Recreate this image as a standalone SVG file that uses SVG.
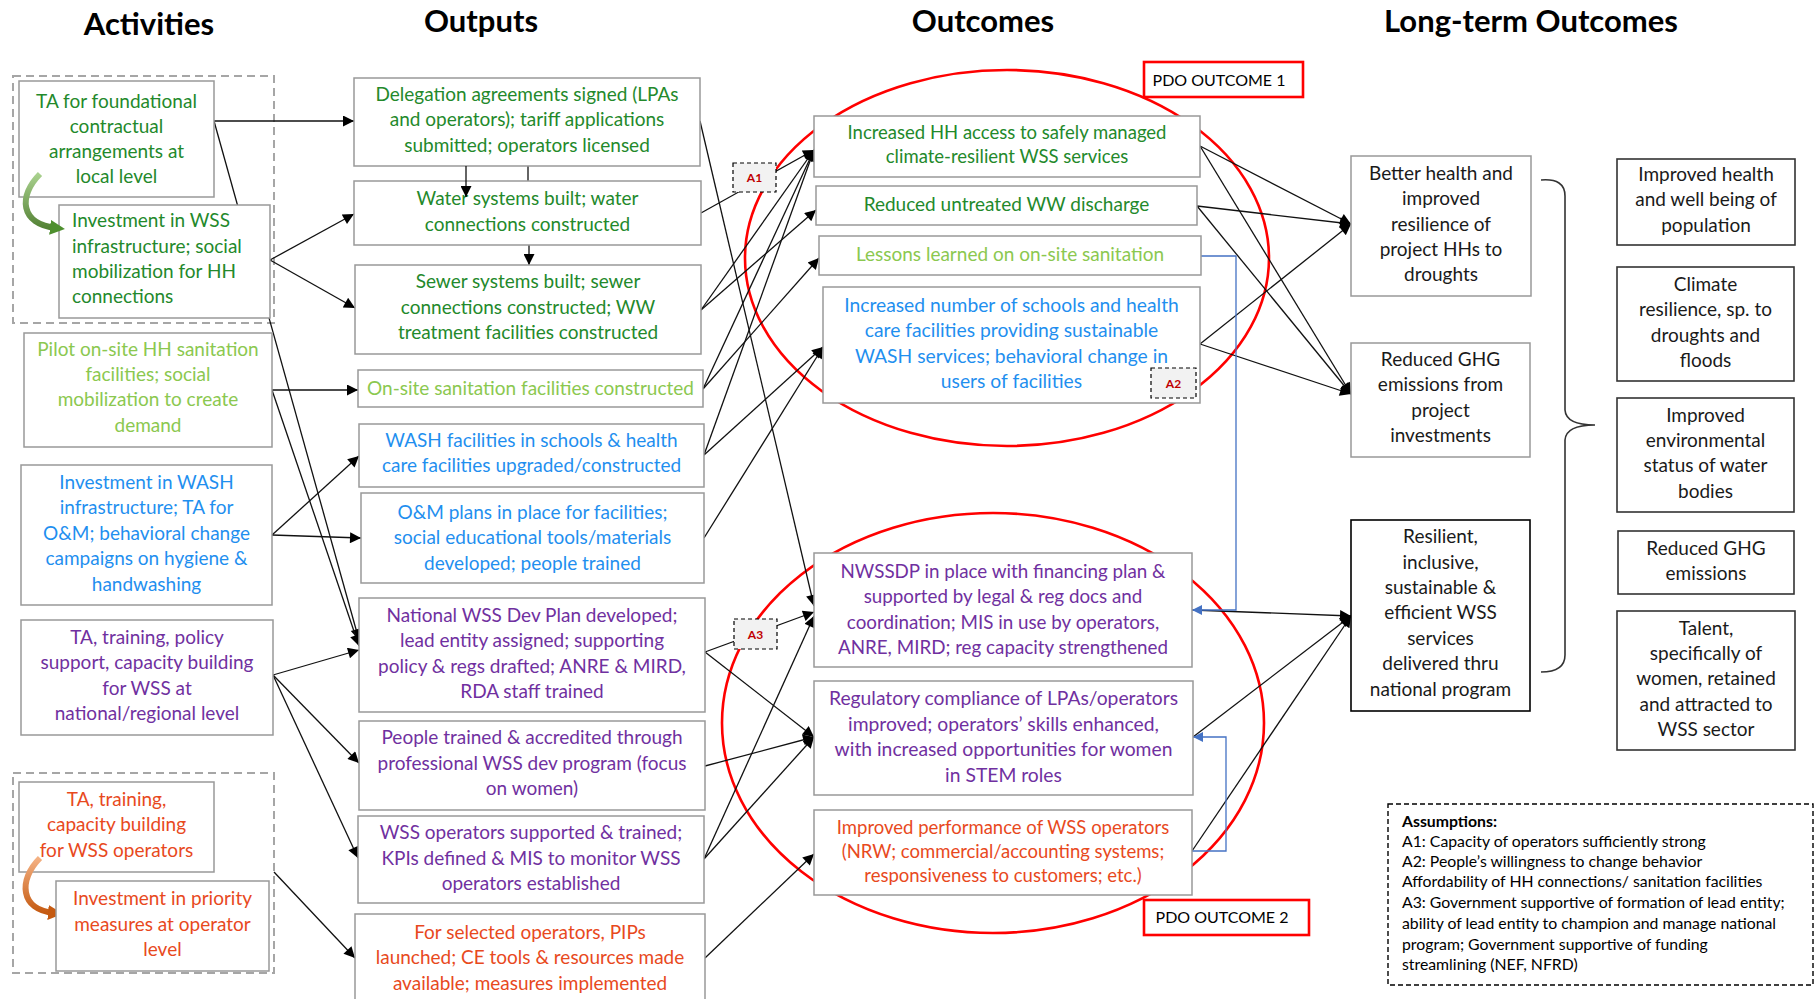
<svg xmlns="http://www.w3.org/2000/svg" width="1815" height="999" viewBox="0 0 1815 999">
<style>
.bg{fill:#fff}
.title{font-family:Lato,"Open Sans",sans-serif;font-weight:bold;font-size:31px;fill:#000;text-anchor:middle}
.box{fill:#fff;stroke:#999;stroke-width:1.5}
.dbox{fill:#fff;stroke:#333;stroke-width:1.6}
.grp{fill:none;stroke:#A6A6A6;stroke-width:2;stroke-dasharray:8 5}
.t{font-family:Lato,"Open Sans",sans-serif;font-size:19px;text-anchor:middle}
.s{font-size:18.5px}
.m{font-size:19.3px}
.l{text-anchor:start}
.g{fill:#23892B}.lg{fill:#8BC84F}.b{fill:#1F8FEF}.p{fill:#7030A0}.o{fill:#E8491D}.k{fill:#1a1a1a}
.c{fill:none;stroke:#111;stroke-width:1.3;marker-end:url(#ah)}
.cb{fill:none;stroke:#4472C4;stroke-width:1.3;marker-end:url(#ahb)}
.ell{fill:none;stroke:#FF0000;stroke-width:2.6}
.pdo{fill:#fff;stroke:#FF0000;stroke-width:2.6}
.pdot{font-family:Lato,"Open Sans",sans-serif;font-size:16px;fill:#000;text-anchor:middle}
.alab{fill:#F2F2F2;stroke:#000;stroke-width:1.2;stroke-dasharray:4 3}
.alt{font-family:Lato,"Open Sans",sans-serif;font-size:12px;font-weight:bold;fill:#C00000;text-anchor:middle}
.as{font-family:Lato,"Open Sans",sans-serif;font-size:15.8px;fill:#000}
</style>
<defs>
<marker id="ah" viewBox="0 0 10 10" refX="10" refY="5" markerWidth="14" markerHeight="11" markerUnits="userSpaceOnUse" orient="auto"><path d="M0,0 L10,5 L0,10 z" fill="#000"/></marker>
<marker id="ahb" viewBox="0 0 10 10" refX="10" refY="5" markerWidth="13" markerHeight="10" markerUnits="userSpaceOnUse" orient="auto"><path d="M0,0 L10,5 L0,10 z" fill="#4472C4"/></marker>
<marker id="ahg" viewBox="0 0 10 10" refX="4" refY="5" markerWidth="15" markerHeight="15" markerUnits="userSpaceOnUse" orient="auto"><path d="M0,0 L10,5 L0,10 z" fill="#4E8F2E"/></marker>
<marker id="aho" viewBox="0 0 10 10" refX="4" refY="5" markerWidth="15" markerHeight="15" markerUnits="userSpaceOnUse" orient="auto"><path d="M0,0 L10,5 L0,10 z" fill="#C55A11"/></marker>
<linearGradient id="gg" x1="0" y1="0" x2="0" y2="1"><stop offset="0" stop-color="#A9D18E"/><stop offset="1" stop-color="#548235"/></linearGradient>
<linearGradient id="go" x1="0" y1="0" x2="0" y2="1"><stop offset="0" stop-color="#F4B183"/><stop offset="1" stop-color="#C55A11"/></linearGradient>
</defs>
<rect class="bg" x="0" y="0" width="1815" height="999"/>

<g id="titles">
<text class="title" x="149" y="35">Activities</text>
<text class="title" x="481" y="32">Outputs</text>
<text class="title" x="983" y="32">Outcomes</text>
<text class="title" x="1531" y="32">Long-term Outcomes</text>
</g>

<g id="groups">
<rect class="grp" x="13" y="76" width="261" height="247"/>
<rect class="grp" x="13" y="773" width="261" height="200"/>
</g>

<g id="ellipses">
<ellipse class="ell" cx="1007" cy="258" rx="262" ry="188"/>
<ellipse class="ell" cx="993" cy="723" rx="271" ry="210"/>
</g>

<g id="connectors">
<path class="c" d="M214,121 L354,121"/>
<path class="c" d="M214,121 L359,640"/>
<path class="c" d="M270,260 L354,214"/>
<path class="c" d="M270,260 L355,308"/>
<path class="c" d="M272,390 L358,390"/>
<path class="c" d="M272,390 L359,646"/>
<path class="c" d="M272,535 L359,456"/>
<path class="c" d="M272,535 L361,538"/>
<path class="c" d="M273,675 L359,650"/>
<path class="c" d="M273,675 L359,763"/>
<path class="c" d="M273,675 L358,858"/>
<path class="c" d="M274,872 L355,958"/>
<path d="M528,166 L528,181" fill="none" stroke="#111" stroke-width="1.3"/>
<path class="c" d="M529,245 L529,265"/>
<path class="c" d="M700,121 L814,606"/>
<path class="c" d="M701,213 L814,150"/>
<path class="c" d="M701,310 L814,150"/>
<path class="c" d="M701,310 L816,210"/>
<path class="c" d="M703,389 L814,150"/>
<path class="c" d="M703,389 L819,258"/>
<path class="c" d="M704,455 L814,150"/>
<path class="c" d="M704,455 L823,347"/>
<path class="c" d="M704,538 L823,347"/>
<path class="c" d="M705,652 L814,612"/>
<path class="c" d="M705,652 L814,737"/>
<path class="c" d="M705,766 L814,737"/>
<path class="c" d="M704,859 L814,616"/>
<path class="c" d="M704,859 L814,737"/>
<path class="c" d="M705,958 L814,854"/>
<path class="c" d="M1200,146 L1351,224"/>
<path class="c" d="M1200,146 L1351,394"/>
<path class="c" d="M1197,206 L1351,224"/>
<path class="c" d="M1197,206 L1351,394"/>
<path class="c" d="M1200,344 L1351,224"/>
<path class="c" d="M1200,344 L1351,394"/>
<path class="c" d="M1192,610 L1351,616"/>
<path class="c" d="M1193,737 L1351,616"/>
<path class="c" d="M1192,851 L1351,616"/>
<path class="cb" d="M1201,256 H1236 V610 H1192"/>
<path class="cb" d="M1192,851 H1226 V737 H1193"/>
<path d="M1541,180 Q1565,178 1565,196 L1565,410 Q1566,425 1595,425 Q1566,425 1565,440 L1565,655 Q1565,672 1541,672" fill="none" stroke="#333" stroke-width="1.6"/>
</g>

<g id="act1"><rect class="box" x="19" y="81" width="195" height="116"/>
<text class="t g"><tspan x="116.5" y="108">TA for foundational</tspan><tspan x="116.5" y="133">contractual</tspan><tspan x="116.5" y="158">arrangements at</tspan><tspan x="116.5" y="183">local level</tspan></text></g>
<g id="act2"><rect class="box" x="59" y="205" width="211" height="113"/>
<text class="t l g"><tspan x="72" y="227">Investment in WSS</tspan><tspan x="72" y="253">infrastructure; social</tspan><tspan x="72" y="278">mobilization for HH</tspan><tspan x="72" y="303">connections</tspan></text></g>
<g id="arrow-green"><path d="M40,174 C18,196 20,224 56,228" fill="none" stroke="url(#gg)" stroke-width="6" marker-end="url(#ahg)"/></g>
<g id="act3"><rect class="box" x="24" y="333" width="248" height="114"/>
<text class="t lg"><tspan x="148" y="356">Pilot on-site HH sanitation</tspan><tspan x="148" y="381">facilities; social</tspan><tspan x="148" y="406">mobilization to create</tspan><tspan x="148" y="432">demand</tspan></text></g>
<g id="act4"><rect class="box" x="21" y="465" width="251" height="140"/>
<text class="t b"><tspan x="146.5" y="489">Investment in WASH</tspan><tspan x="146.5" y="514">infrastructure; TA for</tspan><tspan x="146.5" y="540">O&amp;M; behavioral change</tspan><tspan x="146.5" y="565">campaigns on hygiene &amp;</tspan><tspan x="146.5" y="591">handwashing</tspan></text></g>
<g id="act5"><rect class="box" x="21" y="620" width="252" height="115"/>
<text class="t p"><tspan x="147" y="644">TA, training, policy</tspan><tspan x="147" y="669">support, capacity building</tspan><tspan x="147" y="695">for WSS at</tspan><tspan x="147" y="720">national/regional level</tspan></text></g>
<g id="act6"><rect class="box" x="19" y="782" width="195" height="90"/>
<text class="t o"><tspan x="116.5" y="806">TA, training,</tspan><tspan x="116.5" y="831">capacity building</tspan><tspan x="116.5" y="857">for WSS operators</tspan></text></g>
<g id="arrow-orange"><path d="M40,858 C18,880 20,910 54,913" fill="none" stroke="url(#go)" stroke-width="6" marker-end="url(#aho)"/></g>
<g id="act7"><rect class="box" x="56" y="881" width="213" height="90"/>
<text class="t o"><tspan x="162.5" y="905">Investment in priority</tspan><tspan x="162.5" y="931">measures at operator</tspan><tspan x="162.5" y="956">level</tspan></text></g>

<g id="out1"><rect class="box" x="354" y="78" width="346" height="88"/>
<text class="t g"><tspan x="527" y="101">Delegation agreements signed (LPAs</tspan><tspan x="527" y="126">and operators); tariff applications</tspan><tspan x="527" y="152">submitted; operators licensed</tspan></text></g>
<g id="out2"><rect class="box" x="354" y="181" width="347" height="64"/>
<text class="t g"><tspan x="527.5" y="205">Water systems built; water</tspan><tspan x="527.5" y="231">connections constructed</tspan></text></g>
<path class="c" d="M466,166 L466,197"/>
<g id="out3"><rect class="box" x="355" y="265" width="346" height="89"/>
<text class="t g"><tspan x="528" y="288">Sewer systems built; sewer</tspan><tspan x="528" y="314">connections constructed; WW</tspan><tspan x="528" y="339">treatment facilities constructed</tspan></text></g>
<g id="out4"><rect class="box" x="358" y="370" width="345" height="37"/>
<text class="t lg"><tspan x="530.5" y="395">On-site sanitation facilities constructed</tspan></text></g>
<g id="out5"><rect class="box" x="359" y="424" width="345" height="63"/>
<text class="t b"><tspan x="531.5" y="447">WASH facilities in schools &amp; health</tspan><tspan x="531.5" y="472">care facilities upgraded/constructed</tspan></text></g>
<g id="out6"><rect class="box" x="361" y="493" width="343" height="90"/>
<text class="t b"><tspan x="532.5" y="519">O&amp;M plans in place for facilities;</tspan><tspan x="532.5" y="544">social educational tools/materials</tspan><tspan x="532.5" y="570">developed; people trained</tspan></text></g>
<g id="out7"><rect class="box" x="359" y="598" width="346" height="114"/>
<text class="t p"><tspan x="532" y="622">National WSS Dev Plan developed;</tspan><tspan x="532" y="647">lead entity assigned; supporting</tspan><tspan x="532" y="673">policy &amp; regs drafted; ANRE &amp; MIRD,</tspan><tspan x="532" y="698">RDA staff trained</tspan></text></g>
<g id="out8"><rect class="box" x="359" y="721" width="346" height="89"/>
<text class="t p"><tspan x="532" y="744">People trained &amp; accredited through</tspan><tspan x="532" y="770">professional WSS dev program (focus</tspan><tspan x="532" y="795">on women)</tspan></text></g>
<g id="out9"><rect class="box" x="358" y="816" width="346" height="87"/>
<text class="t p"><tspan x="531" y="839">WSS operators supported &amp; trained;</tspan><tspan x="531" y="865">KPIs defined &amp; MIS to monitor WSS</tspan><tspan x="531" y="890">operators established</tspan></text></g>
<g id="out10"><rect class="box" x="355" y="914" width="350" height="90"/>
<text class="t o"><tspan x="530" y="939">For selected operators, PIPs</tspan><tspan x="530" y="964">launched; CE tools &amp; resources made</tspan><tspan x="530" y="990">available; measures implemented</tspan></text></g>

<g id="oc1"><rect class="box" x="814" y="116" width="386" height="61"/>
<text class="t s g"><tspan x="1007" y="139">Increased HH access to safely managed</tspan><tspan x="1007" y="163">climate-resilient WSS services</tspan></text></g>
<g id="oc2"><rect class="box" x="816" y="186" width="381" height="39"/>
<text class="t g"><tspan x="1006.5" y="211">Reduced untreated WW discharge</tspan></text></g>
<g id="oc3"><rect class="box" x="819" y="236" width="382" height="39"/>
<text class="t lg"><tspan x="1010" y="261">Lessons learned on on-site sanitation</tspan></text></g>
<g id="oc4"><rect class="box" x="823" y="287" width="377" height="116"/>
<text class="t m b"><tspan x="1011.5" y="312">Increased number of schools and health</tspan><tspan x="1011.5" y="337">care facilities providing sustainable</tspan><tspan x="1011.5" y="363">WASH services; behavioral change in</tspan><tspan x="1011.5" y="388">users of facilities</tspan></text></g>
<g id="oc5"><rect class="box" x="814" y="553" width="378" height="114"/>
<text class="t p" style="font-size:18.8px"><tspan x="1003" y="578">NWSSDP in place with financing plan &amp;</tspan><tspan x="1003" y="603">supported by legal &amp; reg docs and</tspan><tspan x="1003" y="629">coordination; MIS in use by operators,</tspan><tspan x="1003" y="654">ANRE, MIRD; reg capacity strengthened</tspan></text></g>
<g id="oc6"><rect class="box" x="814" y="681" width="379" height="114"/>
<text class="t m p"><tspan x="1003.5" y="705">Regulatory compliance of LPAs/operators</tspan><tspan x="1003.5" y="731">improved; operators’ skills enhanced,</tspan><tspan x="1003.5" y="756">with increased opportunities for women</tspan><tspan x="1003.5" y="782">in STEM roles</tspan></text></g>
<g id="oc7"><rect class="box" x="814" y="810" width="378" height="85"/>
<text class="t s o"><tspan x="1003" y="834">Improved performance of WSS operators</tspan><tspan x="1003" y="858">(NRW; commercial/accounting systems;</tspan><tspan x="1003" y="882">responsiveness to customers; etc.)</tspan></text></g>

<g id="labA1"><rect class="alab" x="733" y="163" width="43" height="29"/><text class="alt" x="754.5" y="182">A1</text></g>
<g id="labA2"><rect class="alab" x="1151" y="368" width="45" height="30"/><text class="alt" x="1173.5" y="388">A2</text></g>
<g id="labA3"><rect class="alab" x="734" y="619" width="43" height="30"/><text class="alt" x="755.5" y="639">A3</text></g>

<g id="pdo1"><rect class="pdo" x="1144" y="62" width="159" height="35"/><text class="pdot" x="1219" y="86">PDO OUTCOME 1</text></g>
<g id="pdo2"><rect class="pdo" x="1144" y="900" width="165" height="35"/><text class="pdot" x="1222" y="923">PDO OUTCOME 2</text></g>

<g id="lt1"><rect class="box" x="1351" y="156" width="180" height="140"/>
<text class="t k"><tspan x="1441" y="180">Better health and</tspan><tspan x="1441" y="205">improved</tspan><tspan x="1441" y="231">resilience of</tspan><tspan x="1441" y="256">project HHs to</tspan><tspan x="1441" y="281">droughts</tspan></text></g>
<g id="lt2"><rect class="box" x="1351" y="343" width="179" height="114"/>
<text class="t k"><tspan x="1440.5" y="366">Reduced GHG</tspan><tspan x="1440.5" y="391">emissions from</tspan><tspan x="1440.5" y="417">project</tspan><tspan x="1440.5" y="442">investments</tspan></text></g>
<g id="lt3"><rect class="dbox" x="1351" y="520" width="179" height="191" style="stroke:#000"/>
<text class="t k"><tspan x="1440.5" y="543">Resilient,</tspan><tspan x="1440.5" y="569">inclusive,</tspan><tspan x="1440.5" y="594">sustainable &amp;</tspan><tspan x="1440.5" y="619">efficient WSS</tspan><tspan x="1440.5" y="645">services</tspan><tspan x="1440.5" y="670">delivered thru</tspan><tspan x="1440.5" y="696">national program</tspan></text></g>

<g id="r1"><rect class="dbox" x="1617" y="159" width="178" height="86"/>
<text class="t k"><tspan x="1706" y="181">Improved health</tspan><tspan x="1706" y="206">and well being of</tspan><tspan x="1706" y="232">population</tspan></text></g>
<g id="r2"><rect class="dbox" x="1617" y="267" width="177" height="114"/>
<text class="t k"><tspan x="1705.5" y="291">Climate</tspan><tspan x="1705.5" y="316">resilience, sp. to</tspan><tspan x="1705.5" y="342">droughts and</tspan><tspan x="1705.5" y="367">floods</tspan></text></g>
<g id="r3"><rect class="dbox" x="1617" y="398" width="177" height="114"/>
<text class="t k"><tspan x="1705.5" y="422">Improved</tspan><tspan x="1705.5" y="447">environmental</tspan><tspan x="1705.5" y="472">status of water</tspan><tspan x="1705.5" y="498">bodies</tspan></text></g>
<g id="r4"><rect class="dbox" x="1618" y="531" width="176" height="63"/>
<text class="t k"><tspan x="1706" y="555">Reduced GHG</tspan><tspan x="1706" y="580">emissions</tspan></text></g>
<g id="r5"><rect class="dbox" x="1617" y="611" width="178" height="139"/>
<text class="t k"><tspan x="1706" y="635">Talent,</tspan><tspan x="1706" y="660">specifically of</tspan><tspan x="1706" y="685">women, retained</tspan><tspan x="1706" y="711">and attracted to</tspan><tspan x="1706" y="736">WSS sector</tspan></text></g>

<g id="assumptions"><rect x="1388" y="804" width="425" height="181" fill="#fff" stroke="#000" stroke-width="1.4" stroke-dasharray="5 3"/>
<text class="as"><tspan x="1402" y="827" font-weight="bold">Assumptions:</tspan><tspan x="1402" y="847">A1: Capacity of operators sufficiently strong</tspan><tspan x="1402" y="867">A2: People’s willingness to change behavior</tspan><tspan x="1402" y="887">Affordability of HH connections/ sanitation facilities</tspan><tspan x="1402" y="908">A3: Government supportive of formation of lead entity;</tspan><tspan x="1402" y="929">ability of lead entity to champion and manage national</tspan><tspan x="1402" y="950">program; Government supportive of funding</tspan><tspan x="1402" y="970">streamlining (NEF, NFRD)</tspan></text></g>
</svg>
